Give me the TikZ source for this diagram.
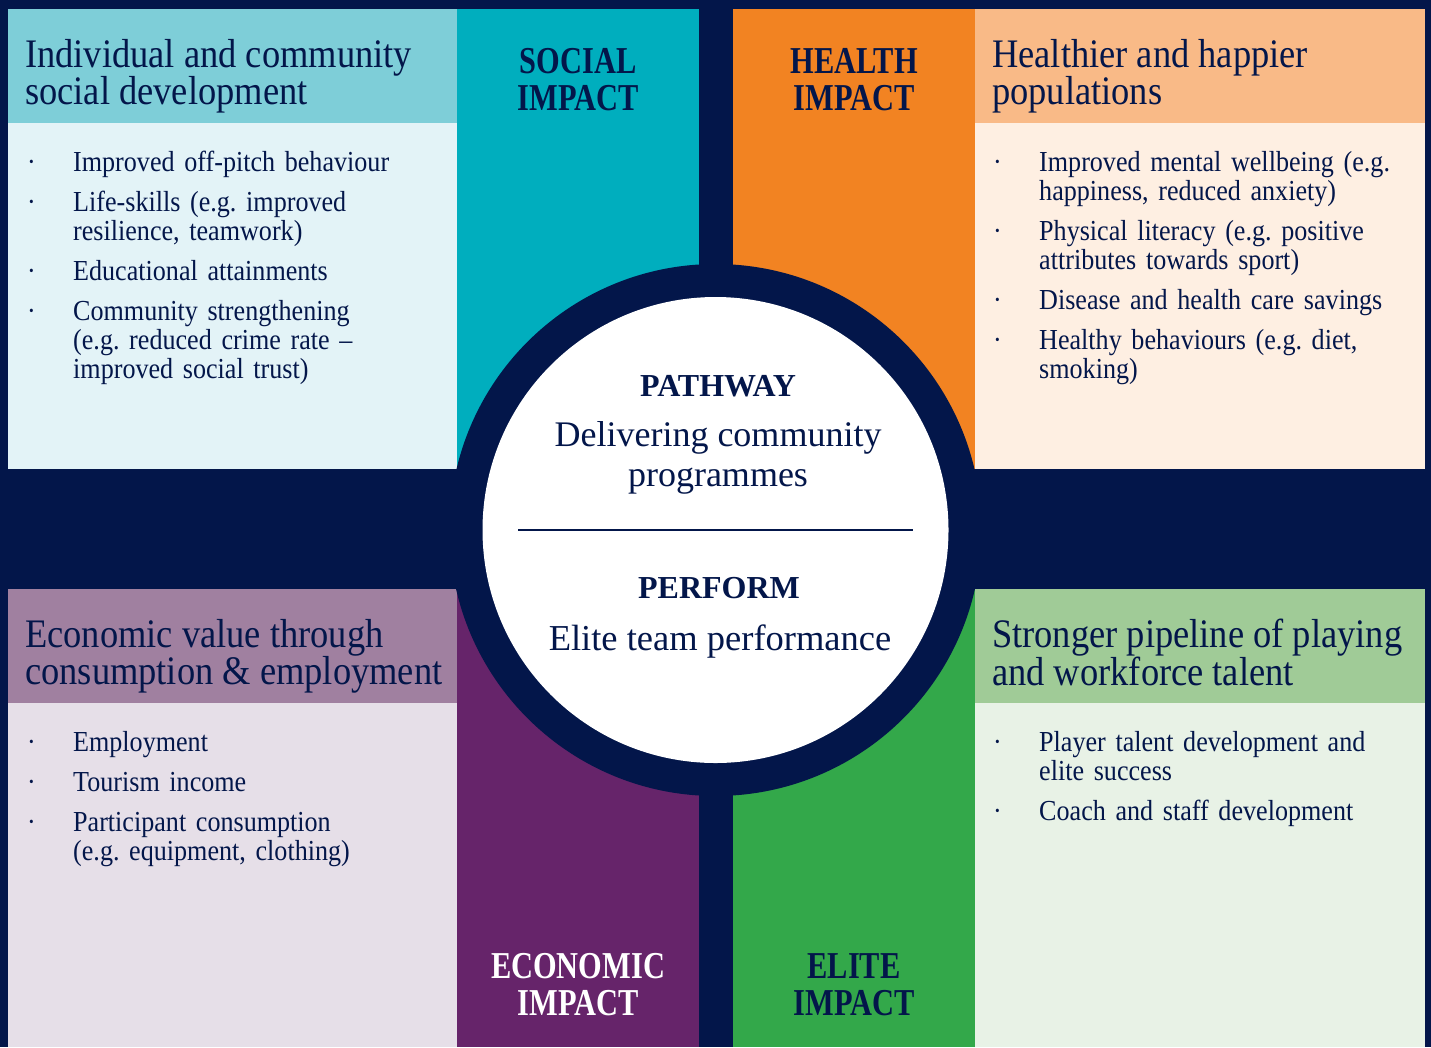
\documentclass[tikz,border=0pt]{standalone}
\usepackage{fontspec}
\setmainfont{Liberation Serif}
\newfontfamily\narrowserif[FakeStretch=0.9]{Liberation Serif}
\newfontfamily\impactserif[FakeStretch=0.8]{Liberation Serif}
\usetikzlibrary{positioning}
\frenchspacing
\definecolor{navy}{RGB}{3,22,74}
\definecolor{tealcol}{RGB}{0,174,190}
\definecolor{tealhead}{RGB}{126,206,216}
\definecolor{tealbody}{RGB}{227,243,247}
\definecolor{orangecol}{RGB}{242,131,34}
\definecolor{peachhead}{RGB}{249,186,135}
\definecolor{peachbody}{RGB}{254,239,226}
\definecolor{purplecol}{RGB}{102,36,106}
\definecolor{mauvehead}{RGB}{160,128,160}
\definecolor{mauvebody}{RGB}{230,223,232}
\definecolor{greencol}{RGB}{51,168,74}
\definecolor{greenhead}{RGB}{160,203,151}
\definecolor{greenbody}{RGB}{232,242,230}
\tikzstyle{heading} = [anchor=north west, inner sep=0pt, align=left, text=navy, font=\narrowserif\fontsize{40.5}{37.5}\selectfont]
\tikzstyle{itemlist} = [anchor=north west, inner sep=0pt, text width=440pt, align=left, text=navy, font=\narrowserif\fontsize{29}{29}\selectfont\setlength{\parskip}{11pt}]
\tikzstyle{impact} = [anchor=north, inner sep=0pt, align=center, text=navy, font=\impactserif\bfseries\fontsize{38}{37}\selectfont]
\tikzstyle{hub} = [inner sep=0pt, align=center, text=navy]
\newcommand{\bitem}[1]{\par\noindent\hangindent=48pt\makebox[48pt][l]{\hspace{2pt}\textperiodcentered}#1\par}

\begin{document}
\begin{tikzpicture}[x=1pt, y=-1pt]
    \useasboundingbox (0,0) rectangle (1431,1047);
    \fill[navy] (0,0) rectangle (1431,1047);
    % four panels and their impact columns
    \fill[tealhead] (8,9) rectangle (457,123);
    \fill[tealbody] (8,123) rectangle (457,469);
    \fill[tealcol] (457,9) rectangle (699,469);
    \fill[orangecol] (733,9) rectangle (975,469);
    \fill[peachhead] (975,9) rectangle (1425,123);
    \fill[peachbody] (975,123) rectangle (1425,469);
    \fill[mauvehead] (8,589) rectangle (457,703);
    \fill[mauvebody] (8,703) rectangle (457,1047);
    \fill[purplecol] (457,589) rectangle (699,1047);
    \fill[greencol] (733,589) rectangle (975,1047);
    \fill[greenhead] (975,589) rectangle (1425,703);
    \fill[greenbody] (975,703) rectangle (1425,1047);
    % hub
    \node[circle, fill=navy, minimum size=532pt, inner sep=0pt] (ring) at (715.5,530) {};
    \node[circle, fill=white, minimum size=466pt, inner sep=0pt] (disc) at (ring.center) {};
    \coordinate (divl) at (518,529.5);
    \coordinate (divr) at (913,529.5);
    \draw[navy, line width=2pt] (divl) -- (divr);
    \node[hub, anchor=base, font=\bfseries\fontsize{32}{32}\selectfont] (pathway) at (718,396) {PATHWAY};
    \node[hub, anchor=north, font=\fontsize{36}{40}\selectfont] (deliver) at (718,421) {Delivering community\\programmes};
    \node[hub, anchor=base, font=\bfseries\fontsize{32}{32}\selectfont] (perform) at (719,598) {PERFORM};
    \node[hub, anchor=base, font=\fontsize{36.5}{40}\selectfont] (elite) at (720,650) {Elite team performance};
    % impact labels
    \node[impact] (social) at (578,48) {SOCIAL\\IMPACT};
    \node[impact] (health) at (854,48) {HEALTH\\IMPACT};
    \node[impact, text=white] (economic) at (578,953) {ECONOMIC\\IMPACT};
    \node[impact] (eliteimp) at (854,953) {ELITE\\IMPACT};
    % panel headings
    \node[heading] (socialhead) at (25,39) {Individual and community\\social development};
    \node[heading] (healthhead) at (992,39) {Healthier and happier\\populations};
    \node[heading] (econhead) at (25,619) {Economic value through\\consumption \& employment};
    \node[heading] (elitehead) at (992,619) {Stronger pipeline of playing\\and workforce talent};
    % panel lists
    \node[itemlist] (sociallist) at (25,131) {%
        \bitem{Improved off-pitch behaviour}
        \bitem{Life-skills (e.g. improved\newline resilience, teamwork)}
        \bitem{Educational attainments}
        \bitem{Community strengthening\newline (e.g. reduced crime rate –\newline improved social trust)}};
    \node[itemlist] (healthlist) at (991,131) {%
        \bitem{Improved mental wellbeing (e.g.\newline happiness, reduced anxiety)}
        \bitem{Physical literacy (e.g. positive\newline attributes towards sport)}
        \bitem{Disease and health care savings}
        \bitem{Healthy behaviours (e.g. diet,\newline smoking)}};
    \node[itemlist] (econlist) at (25,711) {%
        \bitem{Employment}
        \bitem{Tourism income}
        \bitem{Participant consumption\newline (e.g. equipment, clothing)}};
    \node[itemlist] (elitelist) at (991,711) {%
        \bitem{Player talent development and\newline elite success}
        \bitem{Coach and staff development}};
\end{tikzpicture}
\end{document}
